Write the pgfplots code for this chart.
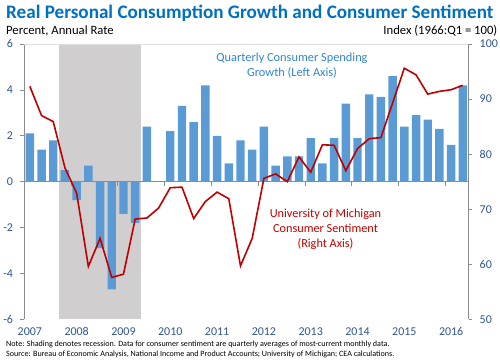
\documentclass[border=0pt]{standalone}
\usepackage{pgfplots}
\pgfplotsset{compat=1.18}
\usepackage{pgfplotstable}
\usepackage{fontspec}
\setmainfont{Carlito}
\definecolor{barblue}{HTML}{5B9BD5}
\definecolor{linered}{HTML}{C00000}
\definecolor{titleblue}{HTML}{0070C0}
\definecolor{tickblue}{HTML}{2F5597}
\definecolor{annblue}{HTML}{2E86D1}
\definecolor{recgray}{HTML}{D0CECE}
\definecolor{axgray}{HTML}{8C8C8C}

\pgfplotstableread{
i g s
0 2.1 92.3
1 1.4 87.0
2 1.8 85.9
3 0.5 77.5
4 -0.8 72.9
5 0.7 59.6
6 -2.9 64.7
7 -4.7 57.6
8 -1.4 58.2
9 -1.8 68.2
10 2.4 68.4
11 0.0 70.2
12 2.2 73.9
13 3.3 74.0
14 2.6 68.3
15 4.2 71.4
16 2.0 73.1
17 0.8 71.9
18 1.8 59.7
19 1.4 64.7
20 2.4 75.6
21 0.7 76.4
22 1.1 75.0
23 1.1 79.5
24 1.9 76.7
25 0.8 81.7
26 1.9 81.6
27 3.4 77.0
28 1.9 81.0
29 3.8 82.8
30 3.7 83.0
31 4.6 89.3
32 2.4 95.6
33 2.9 94.4
34 2.7 90.9
35 2.3 91.4
36 1.6 91.7
37 4.2 92.5
}\data

\begin{document}
\begin{tikzpicture}
\useasboundingbox (0,0) rectangle (500bp,363bp);
\begin{axis}[
  at={(24bp,43.7bp)}, anchor=south west,
  scale only axis, width=444.7bp, height=275.3bp,
  xmin=-0.5, xmax=37.5, ymin=-6, ymax=6,
  axis y line*=left, axis x line*=bottom,
  x axis line style={draw=none},
  y axis line style={draw=axgray, line width=0.6bp},
  ytick={-6,-4,...,6},
  xtick={0,4,...,36},
  xticklabels={2007,2008,2009,2010,2011,2012,2013,2014,2015,2016},
  x tick style={draw=none},
  y tick style={draw=axgray, line width=0.6bp},
  tick align=outside, major tick length=3.5bp,
  /pgf/number format/assume math mode=true,
  yticklabel style={font=\fontsize{12}{13}\selectfont, text=tickblue, xshift=-4bp},
  xticklabel style={font=\fontsize{12}{13}\selectfont, text=tickblue, anchor=north, text height=8bp, text depth=0pt, inner sep=0pt, yshift=-4.5bp},
  clip=false,
]
\fill[recgray] (axis cs:2.5,-6) rectangle (axis cs:9.5,6);
\draw[gray!25, line width=0.6bp] (axis cs:-0.5,6) -- (axis cs:37.5,6);
\addplot[ybar, bar width=0.72, bar shift=0pt, fill=barblue, draw=none] table[x=i,y=g]{\data};
\draw[axgray, line width=0.6bp] (axis cs:-0.5,0) -- (axis cs:37.5,0);
\pgfplotsinvokeforeach{3.5,7.5,11.5,15.5,19.5,23.5,27.5,31.5,35.5}{\draw[axgray, line width=0.6bp] (axis cs:#1,0) -- (axis cs:#1,-0.17);}
\end{axis}
\begin{axis}[
  at={(24bp,43.7bp)}, anchor=south west,
  scale only axis, width=444.7bp, height=275.3bp,
  xmin=-0.5, xmax=37.5, ymin=50, ymax=100,
  axis y line*=right, axis x line=none,
  y axis line style={draw=axgray, line width=0.6bp},
  ytick={50,60,...,100},
  y tick style={draw=axgray, line width=0.6bp},
  tick align=outside, major tick length=3.5bp,
  /pgf/number format/assume math mode=true,
  yticklabel style={font=\fontsize{12}{13}\selectfont, text=tickblue, xshift=4bp},
]
\addplot[linered, line width=1.6bp, mark=none] table[x=i,y=s]{\data};
\end{axis}
\node[anchor=base west, text=titleblue, font=\fontsize{19.2}{22}\selectfont\bfseries, inner sep=0] at (6bp,344bp) {Real Personal Consumption Growth and Consumer Sentiment};
\node[anchor=base west, font=\fontsize{12.7}{14}\selectfont, inner sep=0] at (6bp,328bp) {Percent, Annual Rate};
\node[anchor=base east, font=\fontsize{12.7}{14}\selectfont, inner sep=0] at (497.5bp,328bp) {Index (1966:Q1 = 100)};
\node[align=center, text=annblue, font=\fontsize{12.4}{15.3}\selectfont, inner sep=0] at (292bp,297.3bp) {Quarterly Consumer Spending\\Growth (Left Axis)};
\node[align=center, text=linered, font=\fontsize{12.3}{14.85}\selectfont, inner sep=0] at (325.5bp,133.7bp) {University of Michigan\\Consumer Sentiment\\(Right Axis)};
\node[anchor=base west, font=\fontsize{8.1}{9}\selectfont, inner sep=0] at (6bp,16.5bp) {Note: Shading denotes recession. Data for consumer sentiment are quarterly averages of most-current monthly data.};
\node[anchor=base west, font=\fontsize{8.1}{9}\selectfont, inner sep=0] at (6bp,6.5bp) {Source: Bureau of Economic Analysis, National Income and Product Accounts; University of Michigan; CEA calculations.};
\end{tikzpicture}
\end{document}
